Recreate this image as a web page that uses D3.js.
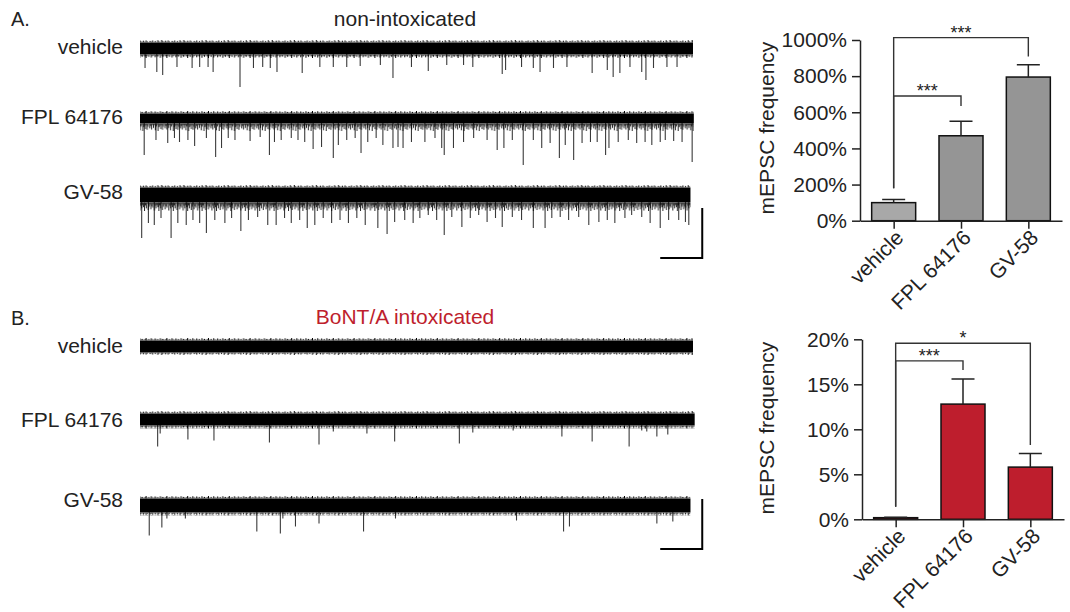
<!DOCTYPE html>
<html><head><meta charset="utf-8">
<script src="https://cdn.jsdelivr.net/npm/d3@7"></script>
<style>
body{margin:0;background:#fff;}
svg{display:block;font-family:"Liberation Sans",Arial,sans-serif;}
</style></head>
<body><svg id="c" width="1070" height="612"></svg>
<script>
// ---------------- DATA ----------------
const traceLabels = ["vehicle", "FPL 64176", "GV-58"];
const barCategories = ["vehicle", "FPL 64176", "GV-58"];
const panelTitleA = "non-intoxicated";
const panelTitleB = "BoNT/A intoxicated";

// trace durations (s)
const traceEndA = [65.8, 65.9, 65.5];
const traceEndB = [65.8, 66.0, 65.5];
// noise: [upper pA, lower pA, extra fuzzy band below pA]
const noiseA = [[7, 6, 2], [7, 4, 6], [9, 7, 7]];
const noiseB = [[6.5, 6.5, 1], [6.5, 6.5, 1.5], [7.5, 7.5, 1.5]];

// mEPSC events: [time s, amplitude pA]
const spikesAVehicle = [[0.6,19],[2.0,23],[2.7,26],[4.4,18],[6.2,19],[7.1,18],[8.1,18],[8.7,23],[11.9,38],[13.5,19],[14.6,18],[15.5,19],[16.3,23],[19.3,24],[21.4,18],[23.0,18],[24.6,18],[26.2,17],[28.6,16],[30.1,29],[32.3,18],[34.3,22],[36.5,16],[38.5,16],[39.6,18],[43.1,25],[43.5,21],[45.4,18],[46.8,19],[47.6,23],[49.2,19],[50.8,18],[53.8,24],[55.6,21],[56.3,28],[57.1,24],[58.3,18],[59.7,23],[60.2,31],[61.1,19],[62.7,18],[63.9,18]];
const spikesAFpl = [[0.5,35],[1.9,20],[3.3,23],[4.1,18],[4.7,22],[5.7,20],[6.5,26],[7.9,18],[9.0,37],[9.7,28],[10.5,18],[11.3,20],[13.1,21],[14.3,17],[15.4,35],[16.0,22],[16.8,20],[18.0,18],[18.8,20],[19.6,22],[20.6,29],[21.6,27],[23.0,38],[23.6,25],[24.6,20],[25.6,18],[26.3,33],[27.1,22],[28.1,18],[28.9,25],[30.1,28],[30.7,27],[31.3,28],[32.3,22],[33.9,22],[35.1,18],[35.9,28],[36.2,35],[37.3,28],[38.5,22],[39.7,18],[41.3,20],[42.5,30],[43.3,28],[44.3,20],[45.6,45],[46.8,20],[47.8,28],[48.8,23],[49.9,38],[50.6,25],[51.6,40],[52.6,23],[53.6,22],[54.4,22],[55.4,35],[55.8,28],[56.9,22],[58.1,20],[59.1,23],[60.1,22],[60.9,25],[61.9,22],[62.5,20],[63.5,21],[64.5,22],[65.7,42]];
const spikesAGv = [[0.2,42],[1.0,27],[1.7,29],[2.5,22],[3.7,42],[4.5,27],[5.5,29],[6.3,24],[7.1,27],[7.9,37],[8.9,24],[10.1,27],[10.9,22],[12.0,35],[12.9,24],[14.0,21],[15.2,29],[16.2,29],[17.2,22],[18.0,27],[19.0,24],[19.9,32],[20.8,29],[21.8,22],[22.8,27],[23.8,24],[24.8,27],[25.8,22],[26.8,29],[28.3,32],[29.4,38],[30.3,26],[31.5,24],[32.5,27],[33.3,22],[34.3,19],[35.3,24],[36.2,39],[37.1,21],[38.3,31],[39.3,22],[40.3,19],[41.3,26],[42.3,22],[43.1,31],[44.3,21],[45.4,24],[46.8,32],[48.2,32],[49.0,22],[50.0,21],[51.0,24],[52.2,21],[53.4,29],[54.6,26],[55.6,24],[56.5,27],[57.7,22],[58.5,19],[59.7,21],[60.7,27],[61.9,32],[62.9,24],[64.1,24],[64.9,26],[65.3,29]];
const spikesBVehicle = [];
const spikesBFpl = [[2.1,27],[2.4,14],[5.7,20],[8.8,21],[15.4,23],[21.3,25],[23.0,12],[27.0,14],[30.3,22],[38.0,24],[39.6,13],[44.4,11],[50.2,17],[53.8,22],[58.2,27],[59.7,11],[60.3,12],[61.5,17],[62.8,15]];
const spikesBGv = [[1.1,30],[2.6,22],[3.2,13],[5.4,13],[13.9,26],[16.7,28],[17.0,13],[18.5,21],[21.3,18],[26.6,26],[30.4,13],[44.8,15],[50.4,26],[51.1,21],[61.5,18],[63.4,16]];

// scale bars: 50 pA, 5 s
const scaleBarAmp = 50;
const scaleBarTime = 5;

// bar charts
const freqA = [100, 470, 795];
const semA = [18, 80, 68];
const freqB = [0.18, 12.8, 5.8];
const semB = [0.06, 2.8, 1.5];
const ticksA = [0, 200, 400, 600, 800, 1000];
const ticksB = [0, 5, 10, 15, 20];
// brackets: [from, to, level, left leg end, right leg end, label]
const bracketsA = [[0, 2, 1013, 179, 908, "***"], [0, 1, 690, 179, 635, "***"]];
const bracketsB = [[0, 2, 19.56, 1.4, 8.26, "*"], [0, 1, 17.6, 1.4, 16.6, "***"]];

// ---------------- DRAW ----------------
const svg = d3.select("#c");
const defs = svg.append("defs");
const FONT = 21;
const ink = "#222";
const red = "#be1e2d";
// edge texture (style): relative hairline lengths within one repeating tile
const texA = [1, .35, .7, .15, .9, .5, .25, .8, .45, .6, .2, .95, .4, .7, .3, .55];
const texB = [.6, .2, .9, .4, .15, 1, .5, .3, .75, .25, .85, .45, .1, .65, .35, .8, .2];

function fuzzPattern(id, top, h, up, tex, step, opacity) {
  const p = defs.append("pattern").attr("id", id).attr("patternUnits", "userSpaceOnUse")
    .attr("x", 0).attr("y", top).attr("width", tex.length * step).attr("height", h);
  tex.forEach((f, k) => {
    const xx = k * step + 0.5;
    p.append("line").attr("x1", xx).attr("x2", xx)
      .attr("y1", up ? h : 0).attr("y2", up ? h * (1 - f) : h * f)
      .attr("stroke", "#000").attr("stroke-width", 1).attr("opacity", opacity);
  });
}

// Headers
svg.append("text").attr("x", 11).attr("y", 26).attr("font-size", 20).attr("fill", ink).text("A.");
svg.append("text").attr("x", 11).attr("y", 325).attr("font-size", 20).attr("fill", ink).text("B.");
svg.append("text").attr("x", 405).attr("y", 26).attr("text-anchor", "middle").attr("font-size", 21).attr("fill", ink).text(panelTitleA);
svg.append("text").attr("x", 405).attr("y", 324).attr("text-anchor", "middle").attr("font-size", 21).attr("fill", red).text(panelTitleB);

const xT = d3.scaleLinear().domain([0, 65.8]).range([140, 693]);
let tid = 0;

function drawTrace(center, end, noise, spikes, label, labelY) {
  const y = d3.scaleLinear().domain([0, 100]).range([center, center + 100]);
  const g = svg.append("g");
  const x0 = xT(0), x1 = xT(end);
  const coreTop = y(-noise[0] + 0.5), coreBot = y(noise[1] - 0.5);
  const fuzzTop = y(-noise[0] - 2), fuzzBot = y(noise[1] + noise[2] + 1);
  const id = tid++;
  const dense = noise[2] > 3;
  fuzzPattern(`u${id}`, fuzzTop, coreTop - fuzzTop, true, id % 2 ? texA : texB, 1.3, 1);
  fuzzPattern(`d${id}`, coreBot, fuzzBot - coreBot, false, id % 2 ? texB : texA, dense ? 0.9 : 1.3, dense ? 0.85 : 1);
  g.selectAll("line.sp").data(spikes).join("line")
    .attr("x1", d => xT(d[0])).attr("x2", d => xT(d[0]))
    .attr("y1", y(0)).attr("y2", d => y(d[1]))
    .attr("stroke", "#3a3a3a").attr("stroke-width", 1.1);
  g.append("rect").attr("x", x0).attr("width", x1 - x0).attr("y", fuzzTop).attr("height", coreTop - fuzzTop)
    .attr("fill", `url(#u${id})`);
  g.append("rect").attr("x", x0).attr("width", x1 - x0).attr("y", coreBot).attr("height", fuzzBot - coreBot)
    .attr("fill", `url(#d${id})`);
  g.append("path").datum([0, end])
    .attr("d", d3.area().x(d => xT(d)).y0(coreTop).y1(coreBot))
    .attr("fill", "#000");
  svg.append("text").attr("x", 123).attr("y", labelY).attr("text-anchor", "end")
    .attr("font-size", FONT).attr("fill", ink).text(label);
  return y;
}

const centersA = [49, 120, 196];
const labelYA = [54, 124, 199];
const spikesA = [spikesAVehicle, spikesAFpl, spikesAGv];
let lastYA;
traceLabels.forEach((lab, i) => { lastYA = drawTrace(centersA[i], traceEndA[i], noiseA[i], spikesA[i], lab, labelYA[i]); });

const centersB = [346.5, 419.5, 505.5];
const labelYB = [353, 427, 507];
const spikesB = [spikesBVehicle, spikesBFpl, spikesBGv];
let lastYB;
traceLabels.forEach((lab, i) => { lastYB = drawTrace(centersB[i], traceEndB[i], noiseB[i], spikesB[i], lab, labelYB[i]); });

function scaleBar(yS, topAmp) {
  const xr = xT(66.9), xl = xT(66.9 - scaleBarTime);
  const yt = yS(topAmp), yb = yS(topAmp + scaleBarAmp);
  svg.append("path").attr("d", `M${xr},${yt}V${yb}H${xl}`)
    .attr("fill", "none").attr("stroke", "#000").attr("stroke-width", 2);
}
scaleBar(lastYA, 12);
scaleBar(lastYB, -6.5);

// ---------------- BAR CHARTS ----------------
function barChart(opts) {
  const { vals, sems, ticks, brackets, yRange, xRange, domainMax, colors, titleY } = opts;
  const y = d3.scaleLinear().domain([0, domainMax]).range(yRange);
  const x = d3.scalePoint().domain(barCategories).range(xRange).padding(0.5);
  const g = svg.append("g");
  const bw = 44;
  g.selectAll("rect").data(vals).join("rect")
    .attr("x", (d, i) => x(barCategories[i]) - bw / 2)
    .attr("y", d => y(d)).attr("width", bw)
    .attr("height", d => y(0) - y(d))
    .attr("fill", (d, i) => colors[i]).attr("stroke", "#111").attr("stroke-width", 1.5);
  vals.forEach((v, i) => {
    const cx = x(barCategories[i]);
    g.append("path").attr("d", `M${cx},${y(v)}V${y(v + sems[i])}M${cx - 11.5},${y(v + sems[i])}H${cx + 11.5}`)
      .attr("stroke", "#222").attr("stroke-width", 1.5).attr("fill", "none");
  });
  const ya = g.append("g").attr("transform", `translate(${xRange[0]},0)`)
    .call(d3.axisLeft(y).tickValues(ticks).tickFormat(d => d + "%").tickSize(8).tickPadding(5).tickSizeOuter(0));
  const xa = g.append("g").attr("transform", `translate(0,${y(0)})`)
    .call(d3.axisBottom(x).tickSize(8).tickSizeOuter(0).tickFormat(""));
  [ya, xa].forEach(a => {
    a.selectAll("path,line").attr("stroke", "#222").attr("stroke-width", 1.5);
    a.selectAll("text").attr("font-size", 21).attr("fill", ink).attr("font-family", "Liberation Sans, Arial, sans-serif");
  });
  barCategories.forEach(c => {
    g.append("text").attr("transform", `translate(${x(c) + 6},${y(0) + 13}) rotate(-45)`)
      .attr("text-anchor", "end").attr("dy", "0.35em").attr("font-size", 21).attr("fill", ink).text(c);
  });
  g.append("text").attr("transform", `translate(774,${titleY}) rotate(-90)`)
    .attr("text-anchor", "middle").attr("font-size", 21).attr("fill", ink).text("mEPSC frequency");
  brackets.forEach(b => {
    const x1 = x(barCategories[b[0]]), x2 = x(barCategories[b[1]]);
    g.append("path").attr("d", `M${x1},${y(b[3])}V${y(b[2])}H${x2}V${y(b[4])}`)
      .attr("fill", "none").attr("stroke", "#333").attr("stroke-width", 1.4);
    g.append("text").attr("x", (x1 + x2) / 2).attr("y", y(b[2]) + 1).attr("text-anchor", "middle")
      .attr("font-size", 18).attr("fill", ink).text(b[5]);
  });
}

barChart({ vals: freqA, sems: semA, ticks: ticksA, brackets: bracketsA, yRange: [220.7, 40], xRange: [860, 1062],
  domainMax: 1000, colors: ["#a8a8a8", "#959595", "#959595"], titleY: 128 });
barChart({ vals: freqB, sems: semB, ticks: ticksB, brackets: bracketsB, yRange: [519.3, 339.3], xRange: [862, 1064],
  domainMax: 20, colors: [red, red, red], titleY: 428 });
</script>
</body></html>
